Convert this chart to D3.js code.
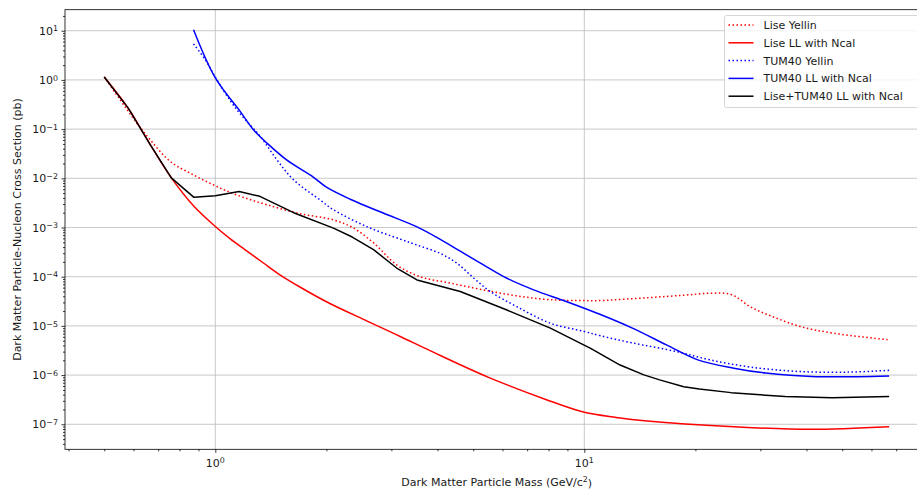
<!DOCTYPE html>
<html>
<head>
<meta charset="utf-8">
<script src="https://cdn.jsdelivr.net/npm/d3@7"></script>
<style>
  html, body { margin: 0; padding: 0; background: #fff; }
  svg { display: block; font-family: "DejaVu Sans", sans-serif; }
</style>
</head>
<body>
<svg id="chart" width="917" height="489"></svg>
<script>
// Exclusion limits: [mass (GeV/c^2), cross section (pb)]
const liseYellin = [
  [0.5, 1.15], [0.613, 0.132], [0.667, 0.06], [0.755, 0.022], [0.873, 0.0117],
  [1.01, 0.0068], [1.17, 0.0043], [1.38, 0.0029], [1.7, 0.0019], [2.09, 0.00143],
  [2.37, 9.7e-4], [2.69, 4.8e-4], [3.1, 1.74e-4], [3.59, 1.0e-4], [4.33, 7.4e-5],
  [5.33, 5.4e-5], [6.57, 4.07e-5], [8.1, 3.4e-5], [10, 3.27e-5], [11, 3.27e-5],
  [15, 3.76e-5], [18.6, 4.2e-5], [21.9, 4.6e-5], [25, 4.35e-5], [28.3, 2.4e-5],
  [32.7, 1.5e-5], [38.5, 9.7e-6], [47.4, 7.1e-6], [67, 5.2e-6]
];
const liseLL = [
  [0.5, 1.15], [0.58, 0.27], [0.67, 0.045], [0.76, 0.0102], [0.875, 0.0027],
  [1.0, 0.00105], [1.1, 5.8e-4], [1.2, 3.6e-4], [1.35, 1.9e-4], [1.5, 1.08e-4],
  [1.7, 6.1e-5], [2.0, 3.1e-5], [2.58, 1.25e-5], [3.17, 6.1e-6], [3.83, 3.1e-6],
  [5.5, 9e-7], [7.86, 3.2e-7], [10.0, 1.75e-7], [12.2, 1.38e-7], [14.8, 1.17e-7],
  [24.7, 9e-8], [41, 7.9e-8], [67, 8.9e-8]
];
const tumYellin = [
  [0.873, 5.4], [0.94, 2.55], [1.01, 1.0], [1.145, 0.245], [1.324, 0.071],
  [1.47, 0.0235], [1.63, 0.0093], [1.925, 0.0036], [2.09, 0.0023], [2.58, 0.00103],
  [3.17, 5.8e-4], [3.52, 4.4e-4], [4.06, 3.0e-4], [4.52, 1.87e-4], [5.02, 9.3e-5],
  [5.56, 5e-5], [6.57, 2.45e-5], [8.1, 1.13e-5], [10, 7.7e-6], [11.06, 6.3e-6],
  [13.5, 4.5e-6], [17.8, 3.0e-6], [21.9, 2.04e-6], [28.3, 1.45e-6], [38.5, 1.18e-6],
  [52.5, 1.15e-6], [67, 1.25e-6]
];
const tumLL = [
  [0.873, 10.5], [1.0, 1.1], [1.169, 0.227], [1.27, 0.096], [1.38, 0.052],
  [1.56, 0.0237], [1.846, 0.0105], [2.0, 0.0066], [2.32, 0.00376], [2.86, 0.00195],
  [3.52, 0.00103], [4.06, 5.8e-4], [4.61, 3.3e-4], [5.33, 1.74e-4], [6.17, 9.3e-5],
  [7.29, 5.4e-5], [8.97, 3.1e-5], [11.06, 1.7e-5], [13.5, 9e-6], [16.7, 4.1e-6],
  [20.3, 2.04e-6], [25.4, 1.38e-6], [31, 1.1e-6], [42.5, 9.3e-7], [55, 9.3e-7],
  [67, 9.6e-7]
];
const combinedLL = [
  [0.5, 1.15], [0.58, 0.27], [0.67, 0.045], [0.76, 0.0102], [0.875, 0.0041],
  [1.0, 0.0044], [1.16, 0.0054], [1.32, 0.0043], [1.63, 0.002], [2.09, 0.00097],
  [2.35, 6.4e-4], [2.69, 3.5e-4], [3.1, 1.5e-4], [3.52, 8.6e-5], [4.61, 5e-5],
  [6.17, 2.1e-5], [8.09, 9e-6], [10.4, 3.5e-6], [12.5, 1.6e-6], [14.5, 1.01e-6],
  [16, 8e-7], [18.6, 5.8e-7], [20.5, 5.2e-7], [25, 4.4e-7], [35, 3.65e-7],
  [47, 3.45e-7], [67, 3.65e-7]
];

const seriesNames = ["Lise Yellin", "Lise LL with Ncal", "TUM40 Yellin", "TUM40 LL with Ncal", "Lise+TUM40 LL with Ncal"];
const seriesData = [liseYellin, liseLL, tumYellin, tumLL, combinedLL];
const seriesColors = ["#ff0000", "#ff0000", "#0000ff", "#0000ff", "#000000"];
const seriesDashed = [true, false, true, false, false];
// The combined limit has sharp corners at low mass; the others are smooth curves
const seriesSmooth = [true, true, true, true, false];

const xTickValues = [1, 10];
const yTickExponents = [-7, -6, -5, -4, -3, -2, -1, 0, 1];

const xTitle = "Dark Matter Particle Mass (GeV/c";
const yTitle = "Dark Matter Particle-Nucleon Cross Section (pb)";

// Layout
const plot = { left: 65, top: 9.7, bottom: 449.3 };
const pxPerDecadeX = 369;

// Log-space limits with 5% padding on each side
function paddedLogExtent(values) {
  const lo = Math.log10(d3.min(values)), hi = Math.log10(d3.max(values));
  const m = 0.05 * (hi - lo);
  return [Math.pow(10, lo - m), Math.pow(10, hi + m)];
}
const allPts = seriesData.flat();
const xDom = paddedLogExtent(allPts.map(d => d[0]));
const yDom = paddedLogExtent(allPts.map(d => d[1]));
plot.right = plot.left + pxPerDecadeX * Math.log10(xDom[1] / xDom[0]);

const x = d3.scaleLog().domain(xDom).range([plot.left, plot.right]);
const y = d3.scaleLog().domain(yDom).range([plot.bottom, plot.top]);

const svg = d3.select("#chart");
const textColor = "#1a1a1a";

svg.append("defs").append("clipPath").attr("id", "plotClip")
  .append("rect")
  .attr("x", plot.left).attr("y", plot.top)
  .attr("width", plot.right - plot.left).attr("height", plot.bottom - plot.top);

// Grid lines at the decades
const grid = svg.append("g").attr("stroke", "#b0b0b0").attr("stroke-width", 0.8).attr("opacity", 0.85);
xTickValues.forEach(v => {
  grid.append("line").attr("x1", x(v)).attr("x2", x(v)).attr("y1", plot.top).attr("y2", plot.bottom);
});
yTickExponents.forEach(e => {
  const v = Math.pow(10, e);
  grid.append("line").attr("x1", plot.left).attr("x2", plot.right).attr("y1", y(v)).attr("y2", y(v));
});

// Curves
const smoothLine = d3.line().x(d => x(d[0])).y(d => y(d[1])).curve(d3.curveCatmullRom.alpha(0.5));
const straightLine = d3.line().x(d => x(d[0])).y(d => y(d[1]));
const curves = svg.append("g").attr("clip-path", "url(#plotClip)");
seriesData.forEach((data, i) => {
  curves.append("path")
    .datum(data)
    .attr("d", seriesSmooth[i] ? smoothLine : straightLine)
    .attr("fill", "none")
    .attr("stroke", seriesColors[i])
    .attr("stroke-width", 1.5)
    .attr("stroke-linejoin", "round")
    .attr("stroke-dasharray", seriesDashed[i] ? "1.5,2.5" : null);
});

// Axes with major and minor ticks
function minorTicks(dom) {
  const out = [];
  const e0 = Math.floor(Math.log10(dom[0])), e1 = Math.ceil(Math.log10(dom[1]));
  for (let e = e0; e <= e1; e++) {
    for (let k = 2; k <= 9; k++) {
      const v = k * Math.pow(10, e);
      if (v >= dom[0] && v <= dom[1]) out.push(v);
    }
  }
  return out;
}

const xAxisMinor = d3.axisBottom(x).tickValues(minorTicks(xDom)).tickSize(2).tickFormat("");
const xAxisMajor = d3.axisBottom(x).tickValues(xTickValues).tickSize(3.5).tickFormat("");
const yAxisMinor = d3.axisLeft(y).tickValues(minorTicks(yDom)).tickSize(2).tickFormat("");
const yAxisMajor = d3.axisLeft(y).tickValues(yTickExponents.map(e => Math.pow(10, e))).tickSize(3.5).tickFormat("");

function styleAxis(g) {
  g.select(".domain").remove();
  g.selectAll(".tick line").attr("stroke", "#000").attr("stroke-width", 0.8);
}
svg.append("g").attr("transform", `translate(0,${plot.bottom})`).call(xAxisMinor).call(styleAxis);
svg.append("g").attr("transform", `translate(0,${plot.bottom})`).call(xAxisMajor).call(styleAxis);
svg.append("g").attr("transform", `translate(${plot.left},0)`).call(yAxisMinor).call(styleAxis);
svg.append("g").attr("transform", `translate(${plot.left},0)`).call(yAxisMajor).call(styleAxis);

// Tick labels as powers of ten
function powerLabel(sel, exp) {
  sel.append("tspan").text("10");
  sel.append("tspan").attr("dy", "-0.42em").attr("font-size", "0.72em")
    .text(exp < 0 ? "\u2212" + Math.abs(exp) : String(exp));
}
xTickValues.forEach(v => {
  const t = svg.append("text")
    .attr("x", x(v)).attr("y", plot.bottom + 17.5)
    .attr("text-anchor", "middle").attr("font-size", 11).attr("fill", textColor);
  powerLabel(t, Math.round(Math.log10(v)));
});
yTickExponents.forEach(e => {
  const t = svg.append("text")
    .attr("x", plot.left - 7).attr("y", y(Math.pow(10, e)) + 4)
    .attr("text-anchor", "end").attr("font-size", 11).attr("fill", textColor);
  powerLabel(t, e);
});

// Frame
svg.append("rect")
  .attr("x", plot.left).attr("y", plot.top)
  .attr("width", plot.right - plot.left).attr("height", plot.bottom - plot.top)
  .attr("fill", "none").attr("stroke", "#000").attr("stroke-width", 0.8);

// Axis titles
const xt = svg.append("text")
  .attr("x", (plot.left + plot.right) / 2).attr("y", 485.5)
  .attr("text-anchor", "middle").attr("font-size", 11).attr("fill", textColor);
xt.append("tspan").text(xTitle);
xt.append("tspan").attr("dy", "-0.42em").attr("font-size", "0.72em").text("2");
xt.append("tspan").attr("dy", "0.42em").text(")");

svg.append("text")
  .attr("transform", `translate(21,${(plot.top + plot.bottom) / 2}) rotate(-90)`)
  .attr("text-anchor", "middle").attr("font-size", 11).attr("fill", textColor)
  .text(yTitle);

// Legend
const legend = svg.append("g").attr("transform", "translate(724.5,15.5)");
legend.append("rect")
  .attr("width", 196).attr("height", 92).attr("rx", 2)
  .attr("fill", "#fff").attr("fill-opacity", 0.8)
  .attr("stroke", "#cccccc").attr("stroke-width", 0.8);
seriesNames.forEach((name, i) => {
  const cy = 9.5 + i * 17.8;
  legend.append("line")
    .attr("x1", 4).attr("x2", 29).attr("y1", cy).attr("y2", cy)
    .attr("stroke", seriesColors[i]).attr("stroke-width", 1.5)
    .attr("stroke-dasharray", seriesDashed[i] ? "1.5,2.5" : null);
  legend.append("text")
    .attr("x", 39).attr("y", cy + 4)
    .attr("font-size", 11).attr("fill", textColor)
    .text(name);
});
</script>
</body>
</html>
